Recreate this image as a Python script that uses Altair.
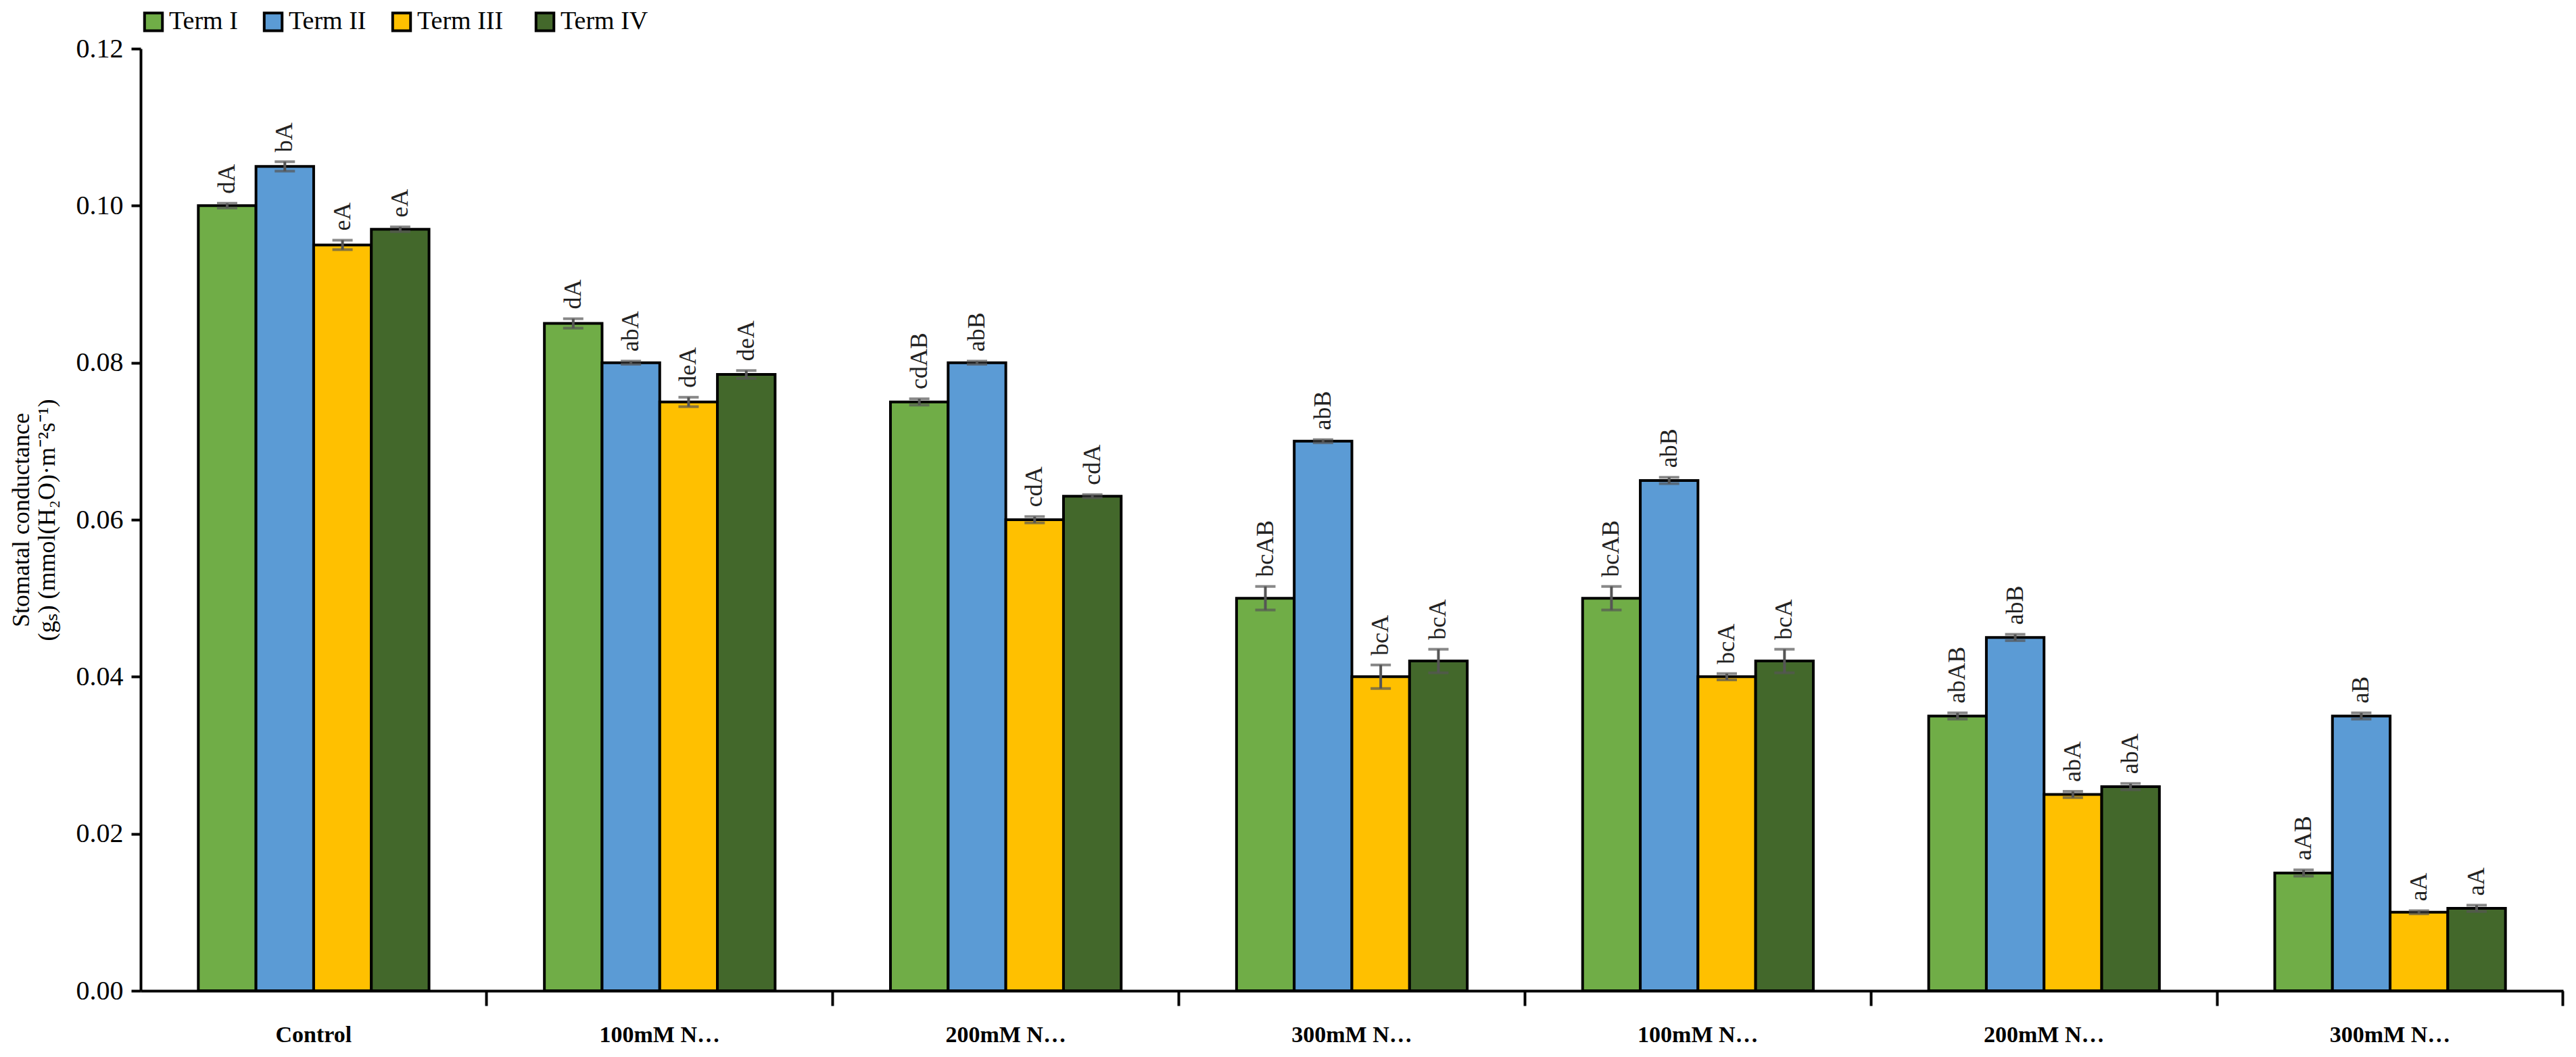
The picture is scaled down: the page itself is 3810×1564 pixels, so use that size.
import altair as alt
import pandas as pd

groups = ["Control", "100mM NaCl", "200mM NaCl", "300mM NaCl",
          "100mM NaHCO₃", "200mM NaHCO₃", "300mM NaHCO₃"]
terms = ["Term I", "Term II", "Term  III", "Term IV"]
colors = ["#70AD47", "#5B9BD5", "#FFC000", "#43682B"]

values = [
    [0.100, 0.105, 0.095, 0.097],
    [0.085, 0.080, 0.075, 0.0785],
    [0.075, 0.080, 0.060, 0.063],
    [0.050, 0.070, 0.040, 0.042],
    [0.050, 0.065, 0.040, 0.042],
    [0.035, 0.045, 0.025, 0.026],
    [0.015, 0.035, 0.010, 0.0105],
]
errors = [
    [0.0003, 0.0006, 0.0006, 0.0003],
    [0.0006, 0.0002, 0.0006, 0.0005],
    [0.0004, 0.0002, 0.0004, 0.0002],
    [0.0015, 0.0002, 0.0015, 0.0015],
    [0.0015, 0.0004, 0.0004, 0.0015],
    [0.0004, 0.0004, 0.0004, 0.0004],
    [0.0004, 0.0004, 0.0002, 0.0004],
]
letters = [
    ["dA", "bA", "eA", "eA"],
    ["dA", "abA", "deA", "deA"],
    ["cdAB", "abB", "cdA", "cdA"],
    ["bcAB", "abB", "bcA", "bcA"],
    ["bcAB", "abB", "bcA", "bcA"],
    ["abAB", "abB", "abA", "abA"],
    ["aAB", "aB", "aA", "aA"],
]

rows = []
for gi, g in enumerate(groups):
    for ti, t in enumerate(terms):
        v, e = values[gi][ti], errors[gi][ti]
        rows.append({"group": g, "term": t, "value": v,
                     "lo": v - e, "hi": v + e, "label": letters[gi][ti]})
df = pd.DataFrame(rows)
sep = pd.DataFrame({"group": groups})

FONT = "Liberation Serif"
YTITLE = ["Stomatal conductance", "(gₛ) (mmol(H₂O)·m⁻²s⁻¹)"]

x = alt.X("group:N", sort=groups, title=None,
          scale=alt.Scale(paddingInner=0, paddingOuter=0),
          axis=alt.Axis(labelAngle=0, labelFontWeight="bold", labelFontSize=34,
                        labelColor="black", labelPadding=26, bandPosition=1,
                        tickSize=22, tickWidth=4, tickColor="black",
                        domainWidth=4, domainColor="black"))
xoff = alt.XOffset("term:N", sort=terms, scale=alt.Scale(paddingInner=0, paddingOuter=1))
y = alt.Y("value:Q", title=YTITLE,
          scale=alt.Scale(domain=[0, 0.12]),
          axis=alt.Axis(values=[0, 0.02, 0.04, 0.06, 0.08, 0.10, 0.12], format=".2f",
                        grid=False, labelFontSize=40, labelColor="black",
                        titleFontSize=36, titleFontWeight="normal", titleColor="black",
                        titlePadding=24, tickSize=14, tickWidth=4, tickColor="black",
                        domainWidth=4, domainColor="black", labelPadding=12))

base = alt.Chart(df)

bars = base.mark_bar(stroke="black", strokeWidth=4).encode(
    x=x, xOffset=xoff, y=y,
    color=alt.Color("term:N", sort=terms, title=None,
                    scale=alt.Scale(domain=terms, range=colors),
                    legend=alt.Legend(orient="top", direction="horizontal",
                                      labelFontSize=38, symbolType="square",
                                      symbolSize=700, symbolStrokeColor="black",
                                      symbolStrokeWidth=4, columnPadding=30,
                                      labelColor="black")),
)

err = base.mark_errorbar(ticks=alt.MarkConfig(size=30), color="#555555", thickness=4).encode(
    x=alt.X("group:N", sort=groups), xOffset=xoff,
    y=alt.Y("lo:Q", title=YTITLE),
    y2="hi:Q",
)

text = base.mark_text(angle=270, align="left", baseline="middle", dx=14,
                      fontSize=36, color="#222222").encode(
    x=alt.X("group:N", sort=groups), xOffset=xoff, y="hi:Q", text="label:N",
)

seps = alt.Chart(sep).mark_rule(color="black", strokeWidth=4).encode(
    x=alt.X("group:N", sort=groups, bandPosition=1),
    y=alt.value(0), y2=alt.datum(0),
)

chart = alt.layer(bars, err, text, seps).properties(
    width=3790, height=1545,
    autosize=alt.AutoSizeParams(type="fit", contains="padding"),
).configure(font=FONT).configure_view(stroke=None)

chart.save("out.html", embed_options={"renderer": "svg", "actions": False})
